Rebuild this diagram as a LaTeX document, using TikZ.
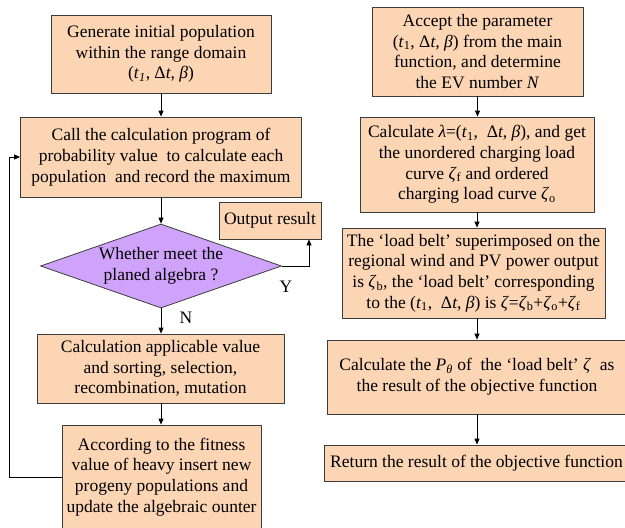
\documentclass[tikz,border=0pt]{standalone}
\usepackage{fontspec}
\setmainfont{Liberation Serif}
\usetikzlibrary{shapes.geometric,arrows.meta}
\definecolor{boxfill}{RGB}{252,213,180}
\definecolor{diafill}{RGB}{208,163,250}
\definecolor{edge}{RGB}{60,60,60}
\newcommand{\tI}{\textit{t}\textsubscript{\textit{1}}}
\newcommand{\tone}{\textit{t}\textsubscript{1}}
\newcommand{\zt}[1]{\textit{ζ}\textsubscript{#1}}
\begin{document}
\begin{tikzpicture}[x=1pt,y=-1pt,
  every node/.style={font=\rmfamily\fontsize{17.5}{20.7}\selectfont},
  box/.style={draw=edge, fill=boxfill, line width=0.8pt, align=center, inner sep=0pt},
  dia/.style={draw=edge, fill=diafill, line width=0.8pt, align=center, inner sep=0pt, shape=diamond, aspect=2.87},
  arr/.style={-{Triangle[length=6pt,width=5pt]}, line width=0.8pt, draw=black},
  lbl/.style={inner sep=0pt}
]
\useasboundingbox (0,0) rectangle (625,528);
% left column
\node[box, minimum width=220pt, minimum height=78pt] (b1) at (161,54)
  {Generate initial population\\within the range domain\\(\tI, Δ\textit{t}, \textit{β})};
\node[box, minimum width=281pt, minimum height=80pt] (b2) at (161,157)
  {Call the calculation program of\\probability value\ \ to calculate each\\population\ \ and record the maximum};
\node[dia, minimum width=241pt, minimum height=84pt] (d) at (161,266)
  {Whether meet the\\planed algebra ?};
\node[box, minimum width=102pt, minimum height=37pt] (out) at (270,220.5) {Output result};
\node[box, minimum width=247pt, minimum height=69pt] (b3) at (160.5,368.5)
  {Calculation applicable value\\and sorting, selection,\\recombination, mutation};
\node[box, minimum width=199pt, minimum height=104pt] (b4) at (161.5,477)
  {According to the fitness\\value of heavy insert new\\progeny populations and\\update the algebraic ounter};
\node[lbl] (ylab) at (286,287) {Y};
\node[lbl] (nlab) at (186,318) {N};
\draw[arr] (b1) -- (b2);
\draw[arr] (b2) -- (d);
\draw[arr] (d.south) -- (d.south |- b3.north);
\draw[arr] (d.south |- b3.south) -- (d.south |- b4.north);
\draw[arr] (d.east) -| ([xshift=39pt]out.south);
\draw[arr] (b4.west) -- ++(-52,0) |- (b2.west);
% right column
\node[box, minimum width=211pt, minimum height=89pt] (r1) at (477.5,51.5)
  {Accept the parameter\\(\tone, Δ\textit{t}, \textit{β}) from the main\\function, and determine\\the EV number \textit{N}};
\node[box, minimum width=234pt, minimum height=95pt] (r2) at (477,164.5)
  {Calculate \textit{λ}=(\tone, \ Δ\textit{t}, \textit{β}), and get\\the unordered charging load\\curve \zt{f} and ordered\\charging load curve \zt{o}};
\node[box, minimum width=263pt, minimum height=90pt] (r3) at (473.5,273)
  {The ‘load belt’ superimposed on the\\regional wind and PV power output\\is \zt{b}, the ‘load belt’ corresponding\\to the (\tone, \ Δ\textit{t}, \textit{β}) is \textit{ζ}=\zt{b}+\zt{o}+\zt{f}};
\node[box, minimum width=300pt, minimum height=74pt] (r4) at (477,377)
  {Calculate the \textit{P}\textsubscript{\textit{θ}} of\ \ the ‘load belt’ \textit{ζ}\ \ as\\the result of the objective function};
\node[box, minimum width=305pt, minimum height=36pt] (r5) at (476.5,463)
  {Return the result of the objective function};
\draw[arr] (r1) -- (r1.south |- r2.north);
\draw[arr] (r2.south) -- (r2.south |- r3.north);
\draw[arr] (r2.south |- r3.south) -- (r2.south |- r4.north);
\draw[arr] (r2.south |- r4.south) -- (r2.south |- r5.north);
\end{tikzpicture}
\end{document}
